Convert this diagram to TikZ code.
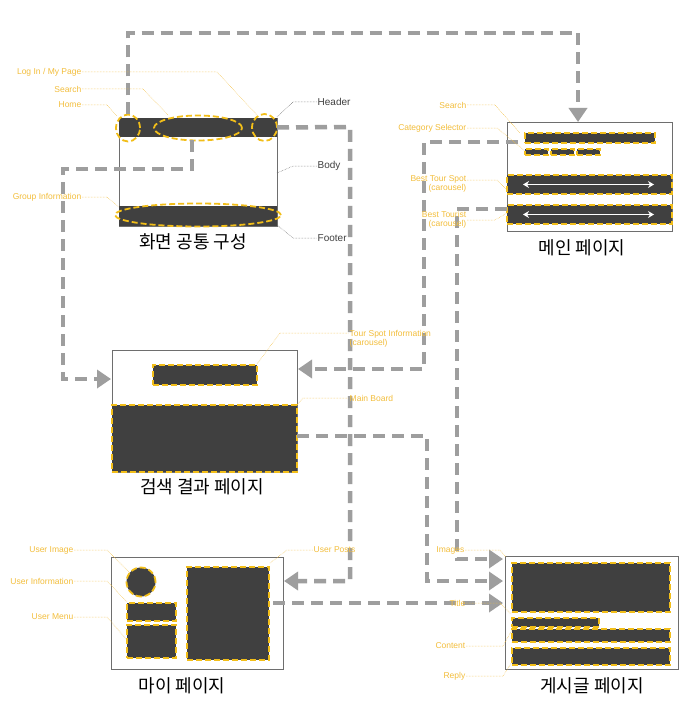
\documentclass[tikz,border=0pt]{standalone}
\usepackage{fontspec}
\setmainfont{Liberation Sans}
\newfontfamily\kr{Noto Sans CJK KR}
\usetikzlibrary{arrows.meta,shapes.geometric,calc}
\definecolor{dark}{RGB}{64,64,64}
\definecolor{ylw}{RGB}{242,190,25}
\definecolor{lab}{RGB}{243,190,60}
\definecolor{conncol}{RGB}{158,158,158}
\definecolor{frame}{RGB}{110,110,110}
\tikzset{
  frm/.style={draw=frame, line width=0.8pt, fill=white, inner sep=0pt, outer sep=0pt, anchor=north west},
  bandbox/.style={fill=dark, draw=none, inner sep=0pt, outer sep=0pt, anchor=north west},
  blk/.style={fill=dark, draw=ylw, dash pattern=on 6pt off 3pt, line width=1.8pt, inner sep=0pt, outer sep=0pt, anchor=north west},
  oval/.style={ellipse, draw=ylw, dash pattern=on 6pt off 3pt, line width=1.8pt, inner sep=0pt, outer sep=0pt},
  lbl/.style={text=lab, font=\fontsize{8.5}{9.5}\selectfont, inner sep=0.5pt},
  leader/.style={draw=lab, densely dotted, line width=0.5pt},
  glbl/.style={text=black!75, font=\fontsize{10}{12}\selectfont, inner sep=0.5pt},
  gleader/.style={draw=black!60, densely dotted, line width=0.5pt},
  ttl/.style={font=\kr\fontsize{18}{20}\selectfont, text=black, inner sep=0pt},
  conn/.style={draw=conncol, line width=4.5pt, dash pattern=on 12pt off 7pt, -{Triangle[length=14pt,width=18pt]}},
  wa/.style={draw=white, line width=1.6pt, {Stealth[length=6pt,width=7pt]}-{Stealth[length=6pt,width=7pt]}}
}
\begin{document}
\begin{tikzpicture}[x=1pt,y=-1pt]
\useasboundingbox (0,0) rectangle (695,706);
\fill[white] (0,0) rectangle (695,706);

% ---------- common layout ----------
\node[frm, minimum width=158, minimum height=108] (cbox) at (119,118) {};
\node[bandbox, minimum width=158, minimum height=19] (chead) at (119,118) {};
\node[bandbox, minimum width=158, minimum height=20] (cfoot) at (119,206) {};
\node[oval, minimum width=24, minimum height=27] (home) at (128,128) {};
\node[oval, minimum width=88, minimum height=25] (csearch) at (198,128) {};
\node[oval, minimum width=25, minimum height=27] (login) at (264.5,127.5) {};
\node[oval, minimum width=166, minimum height=23] (group) at (198,215) {};
\node[ttl] (t1) at (193,242) {화면 공통 구성};

% ---------- main page ----------
\node[frm, minimum width=165, minimum height=109] (mbox) at (507,122) {};
\node[blk, minimum width=130, minimum height=10] (msearch) at (525,133) {};
\node[blk, minimum width=23, minimum height=6] (cat1) at (525,149) {};
\node[blk, minimum width=23, minimum height=6] (cat2) at (551,149) {};
\node[blk, minimum width=23, minimum height=6] (cat3) at (577,149) {};
\node[blk, minimum width=165, minimum height=19] (band1) at (507,175) {};
\node[blk, minimum width=165, minimum height=19] (band2) at (507,205) {};
\draw[wa] ([xshift=16]band1.west) -- ([xshift=-18]band1.east);
\draw[wa] ([xshift=16]band2.west) -- ([xshift=-18]band2.east);
\node[ttl] (t2) at (582,248) {메인 페이지};

% ---------- search results ----------
\node[frm, minimum width=185, minimum height=122] (sbox) at (112,350) {};
\node[blk, minimum width=104, minimum height=20] (stour) at (153,365) {};
\node[blk, minimum width=185, minimum height=67] (sboard) at (112,405) {};
\node[ttl] (t3) at (202,487) {검색 결과 페이지};

% ---------- my page ----------
\node[frm, minimum width=172, minimum height=112] (pbox) at (111,557) {};
\node[circle, fill=dark, draw=ylw, dash pattern=on 6pt off 3pt, line width=1.8pt, inner sep=0pt, minimum size=29] (uimg) at (141,582) {};
\node[blk, minimum width=49, minimum height=18] (uinfo) at (127,603) {};
\node[blk, minimum width=49, minimum height=33] (umenu) at (127,625) {};
\node[blk, minimum width=82, minimum height=93] (uposts) at (187,567) {};
\node[ttl] (t4) at (182,686) {마이 페이지};

% ---------- post page ----------
\node[frm, minimum width=173, minimum height=113] (gbox) at (505,556) {};
\node[blk, minimum width=158, minimum height=49] (gimg) at (512,563) {};
\node[blk, minimum width=87, minimum height=9] (gtitle) at (512,618) {};
\node[blk, minimum width=158, minimum height=13] (gcontent) at (512,629) {};
\node[blk, minimum width=158, minimum height=17] (greply) at (512,648) {};
\node[ttl] (t5) at (592,686) {게시글 페이지};

% ---------- connectors ----------
\coordinate (h1) at (128,33);
\coordinate (h2) at (578,33);
\draw[conn] (home.north) -- (h1) -- (h2) -- (h2 |- mbox.north);

\coordinate (l1) at (350,127);
\coordinate (l2) at (350,581);
\draw[conn, shorten >=1pt] (login.east) -- (l1) -- (l2) -- (l2 -| pbox.east);

\coordinate (s0) at (192,140);
\coordinate (s1) at (192,169);
\coordinate (s2) at (63,169);
\coordinate (s3) at (63,379);
\draw[conn, shorten >=1pt] (s0) -- (s1) -- (s2) -- (s3) -- (s3 -| sbox.west);

\coordinate (c0) at (518,142);
\coordinate (c1) at (424,142);
\coordinate (c2) at (424,369);
\draw[conn, shorten >=1pt] (c0) -- (c1) -- (c2) -- (c2 -| sbox.east);

\coordinate (b1) at (457,209);
\coordinate (b2) at (457,559);
\draw[conn, shorten >=2pt] (b1 -| band2.west) -- (b1) -- (b2) -- (b2 -| gbox.west);

\coordinate (m1) at (427,436);
\coordinate (m2) at (427,581);
\draw[conn, shorten >=2pt] (m1 -| sboard.east) -- (m1) -- (m2) -- (m2 -| gbox.west);

\coordinate (p1) at (273,603);
\draw[conn, shorten >=2pt] (p1) -- (p1 -| gbox.west);

% ---------- labels: common ----------
\node[lbl, anchor=east] (lLogin) at (82,72) {Log In / My Page};
\node[lbl, anchor=east] (lSearch) at (82,89) {Search};
\node[lbl, anchor=east] (lHome) at (82,105) {Home};
\node[lbl, anchor=east] (lGroup) at (82,197) {Group Information};
\draw[leader] (lLogin.east) -- (217,72) -- (257,115);
\draw[leader] (lSearch.east) -- (143,89) -- (168,115);
\draw[leader] (lHome.east) -- (107,105) -- (117,116);
\draw[leader] (lGroup.east) -- (107,197) -- (119,207);

\node[glbl, anchor=west] (lHeader) at (317,102) {Header};
\node[glbl, anchor=west] (lBody) at (317,166) {Body};
\node[glbl, anchor=west] (lFooter) at (317,238) {Footer};
\draw[gleader] (277,117) -- (293,102) -- (lHeader.west);
\draw[gleader] (277,173) -- (293,166) -- (lBody.west);
\draw[gleader] (277,225) -- (293,238) -- (lFooter.west);

% ---------- labels: main ----------
\node[lbl, anchor=east] (lmSearch) at (467,105) {Search};
\node[lbl, anchor=east] (lmCat) at (467,128) {Category Selector};
\node[lbl, anchor=east, align=right] (lmBts) at (467,184) {Best Tour Spot\\(carousel)};
\node[lbl, anchor=east, align=right] (lmBt) at (467,220) {Best Tourist\\(carousel)};
\draw[leader] (lmSearch.east) -- (495,105) -- (520,133);
\draw[leader] (lmCat.east) -- (497,128) -- (525,151);
\draw[leader] (467,180) -- (497,180) -- (507,190);
\draw[leader] (467,220) -- (495,220) -- (507,213);

% ---------- labels: search ----------
\node[lbl, anchor=west, align=left] (lsTour) at (349,339) {Tour Spot Information\\(carousel)};
\node[lbl, anchor=west] (lsBoard) at (349,398) {Main Board};
\draw[leader] (257,364) -- (280,333) -- (349,333);
\draw[leader] (297,405) -- (303,398) -- (lsBoard.west);

% ---------- labels: my page ----------
\node[lbl, anchor=east] (luImg) at (74,550) {User Image};
\node[lbl, anchor=east] (luInfo) at (74,581) {User Information};
\node[lbl, anchor=east] (luMenu) at (74,617) {User Menu};
\node[lbl, anchor=west] (luPosts) at (313,550) {User Posts};
\draw[leader] (luImg.east) -- (107,550) -- (130,573);
\draw[leader] (luInfo.east) -- (107,581) -- (127,602);
\draw[leader] (luMenu.east) -- (107,617) -- (127,640);
\draw[leader] (270,563) -- (287,550) -- (luPosts.west);

% ---------- labels: post ----------
\node[lbl, anchor=east] (lgImg) at (465,550) {Images};
\node[lbl, anchor=east] (lgTitle) at (466,603) {Title};
\node[lbl, anchor=east] (lgContent) at (466,646) {Content};
\node[lbl, anchor=east] (lgReply) at (466,676) {Reply};
\draw[leader] (lgImg.east) -- (500,550) -- (506,557);
\draw[leader] (lgTitle.east) -- (500,603) -- (511,614);
\draw[leader] (lgContent.east) -- (503,646) -- (512,630);
\draw[leader] (lgReply.east) -- (503,676) -- (512,662);
\end{tikzpicture}
\end{document}
